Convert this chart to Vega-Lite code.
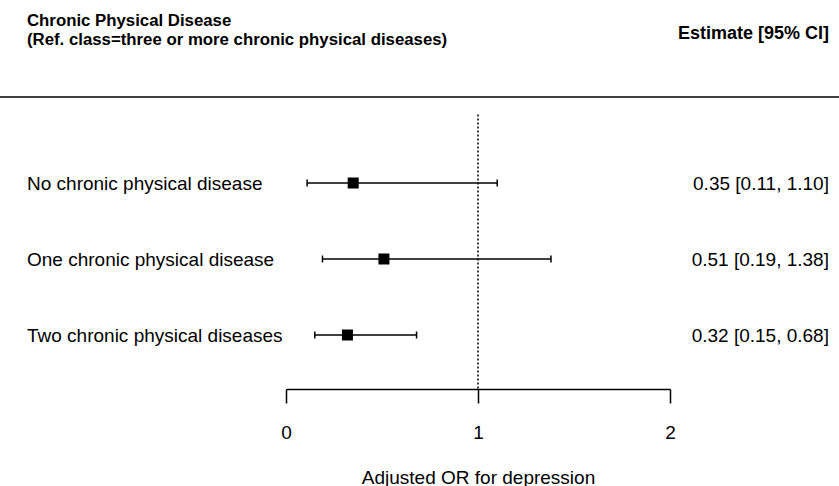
{
  "$schema": "https://vega.github.io/schema/vega-lite/v6.json",
  "width": 384,
  "height": 389,
  "autosize": {"type": "none"},
  "padding": {"left": 286, "top": 0, "right": 169, "bottom": 97},
  "background": "white",
  "config": {
    "view": {"stroke": null},
    "font": "Liberation Sans",
    "axisX": {
      "domainColor": "black", "domainWidth": 1.5,
      "tickColor": "black", "tickWidth": 1.5, "tickSize": 14, "tickCount": 2,
      "labelFontSize": 19, "labelColor": "black", "labelPadding": 20, "labelFlush": false,
      "labelFont": "Liberation Sans",
      "titleFontSize": 19, "titleFontWeight": "normal", "titleColor": "black", "titlePadding": 26,
      "titleFont": "Liberation Sans",
      "grid": false
    }
  },
  "datasets": {
    "rows": [
      {"label": "No chronic physical disease", "est": 0.35, "lo": 0.11, "hi": 1.10, "ci": "0.35 [0.11, 1.10]", "row": 1},
      {"label": "One chronic physical disease", "est": 0.51, "lo": 0.19, "hi": 1.38, "ci": "0.51 [0.19, 1.38]", "row": 2},
      {"label": "Two chronic physical diseases", "est": 0.32, "lo": 0.15, "hi": 0.68, "ci": "0.32 [0.15, 0.68]", "row": 3}
    ],
    "header": [
      {"t1": "Chronic Physical Disease", "t2": "(Ref. class=three or more chronic physical diseases)", "t3": "Estimate [95% CI]"}
    ]
  },
  "layer": [
    {
      "data": {"name": "rows"},
      "mark": {"type": "rule", "color": "black", "strokeWidth": 1.5},
      "encoding": {
        "x": {"field": "lo", "type": "quantitative", "scale": {"domain": [0, 2], "nice": false, "zero": false}, "title": "Adjusted OR for depression"},
        "x2": {"field": "hi"},
        "y": {"field": "row", "type": "quantitative", "scale": {"domain": [-1.4079, 3.7105], "reverse": true, "nice": false, "zero": false}, "axis": null}
      }
    },
    {
      "data": {"name": "rows"},
      "mark": {"type": "tick", "orient": "vertical", "color": "black", "size": 7, "thickness": 1.5, "opacity": 1},
      "encoding": {
        "x": {"field": "lo", "type": "quantitative", "title": "Adjusted OR for depression"},
        "y": {"field": "row", "type": "quantitative"}
      }
    },
    {
      "data": {"name": "rows"},
      "mark": {"type": "tick", "orient": "vertical", "color": "black", "size": 7, "thickness": 1.5, "opacity": 1},
      "encoding": {
        "x": {"field": "hi", "type": "quantitative", "title": "Adjusted OR for depression"},
        "y": {"field": "row", "type": "quantitative"}
      }
    },
    {
      "data": {"name": "rows"},
      "mark": {"type": "point", "shape": "square", "filled": true, "color": "black", "size": 121, "opacity": 1},
      "encoding": {
        "x": {"field": "est", "type": "quantitative", "title": "Adjusted OR for depression"},
        "y": {"field": "row", "type": "quantitative"}
      }
    },
    {
      "data": {"name": "rows"},
      "mark": {"type": "text", "align": "left", "baseline": "middle", "fontSize": 19, "color": "black", "font": "Liberation Sans", "dy": 1},
      "encoding": {
        "x": {"datum": -1.349, "type": "quantitative"},
        "y": {"field": "row", "type": "quantitative"},
        "text": {"field": "label"}
      }
    },
    {
      "data": {"name": "rows"},
      "mark": {"type": "text", "align": "right", "baseline": "middle", "fontSize": 19, "color": "black", "font": "Liberation Sans", "dy": 1},
      "encoding": {
        "x": {"datum": 2.828, "type": "quantitative"},
        "y": {"field": "row", "type": "quantitative"},
        "text": {"field": "ci"}
      }
    },
    {
      "data": {"name": "header"},
      "mark": {"type": "rule", "color": "black", "strokeWidth": 1.5, "strokeDash": [2, 2]},
      "encoding": {
        "x": {"datum": 1, "type": "quantitative"},
        "y": {"datum": 0.1, "type": "quantitative"},
        "y2": {"datum": 3.7105}
      }
    },
    {
      "data": {"name": "header"},
      "mark": {"type": "rule", "color": "black", "strokeWidth": 1.5},
      "encoding": {
        "x": {"datum": -1.4896, "type": "quantitative"},
        "x2": {"datum": 2.8802},
        "y": {"datum": -0.132, "type": "quantitative"}
      }
    },
    {
      "data": {"name": "header"},
      "mark": {"type": "text", "align": "left", "baseline": "alphabetic", "fontSize": 16.8, "fontWeight": "bold", "color": "black", "font": "Liberation Sans"},
      "encoding": {
        "x": {"datum": -1.349, "type": "quantitative"},
        "y": {"datum": -1.066, "type": "quantitative"},
        "text": {"field": "t1"}
      }
    },
    {
      "data": {"name": "header"},
      "mark": {"type": "text", "align": "left", "baseline": "alphabetic", "fontSize": 16.8, "fontWeight": "bold", "color": "black", "font": "Liberation Sans"},
      "encoding": {
        "x": {"datum": -1.349, "type": "quantitative"},
        "y": {"datum": -0.82, "type": "quantitative"},
        "text": {"field": "t2"}
      }
    },
    {
      "data": {"name": "header"},
      "mark": {"type": "text", "align": "right", "baseline": "alphabetic", "fontSize": 18, "fontWeight": "bold", "color": "black", "font": "Liberation Sans"},
      "encoding": {
        "x": {"datum": 2.828, "type": "quantitative"},
        "y": {"datum": -0.9, "type": "quantitative"},
        "text": {"field": "t3"}
      }
    }
  ]
}
